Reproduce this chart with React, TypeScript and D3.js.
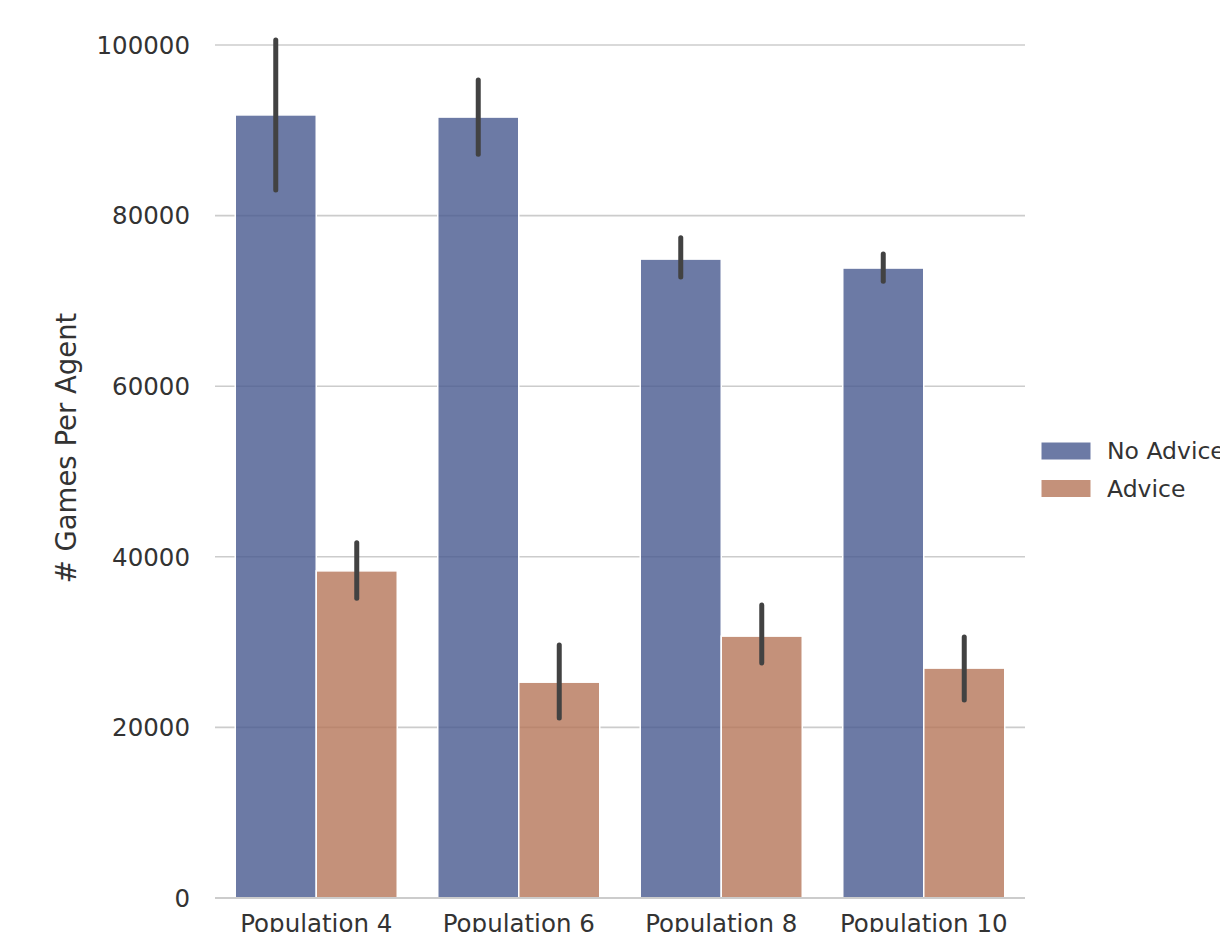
// Externals
import * as d3 from 'd3'
import React, { useEffect, useRef } from 'react'

const categories = ['Population 4', 'Population 6', 'Population 8', 'Population 10']
const seriesNames = ['No Advice', 'Advice']
const noAdviceMean = [91800, 91550, 74900, 73850]
const noAdviceLow = [83000, 87200, 72800, 72300]
const noAdviceHigh = [100600, 95900, 77400, 75500]
const adviceMean = [38350, 25300, 30700, 26950]
const adviceLow = [35150, 21100, 27550, 23200]
const adviceHigh = [41650, 29650, 34350, 30600]
const yTicks = [0, 20000, 40000, 60000, 80000, 100000]

const colors = ['#47598f', '#b57659']

const App = () => {
  const svgRef = useRef<any>(null)

  useEffect(() => {
    if (!svgRef.current) return
    d3.select(svgRef.current).selectAll('*').remove()

    const width = 1228
    const height = 940
    const left = 215
    const right = 1025
    const top = 45
    const bottom = 898

    const svg = d3.select(svgRef.current)
      .attr('width', width)
      .attr('height', height)
      .style('font-family', '"DejaVu Sans", sans-serif')

    const x = d3.scaleBand()
      .domain(categories)
      .range([left, right])
      .paddingInner(0.2)
      .paddingOuter(0.1)

    const xSub = d3.scaleBand()
      .domain(seriesNames)
      .range([0, x.bandwidth()])

    const y = d3.scaleLinear()
      .domain([0, 100000])
      .range([bottom, top])

    // Grid lines
    svg.selectAll('.grid')
      .data(yTicks.filter((t) => t > 0))
      .enter()
      .append('line')
      .attr('x1', left)
      .attr('x2', right)
      .attr('y1', (d) => y(d))
      .attr('y2', (d) => y(d))
      .attr('stroke', '#cccccc')
      .attr('stroke-width', 1.6)

    // Y tick labels
    svg.selectAll('.ytick')
      .data(yTicks)
      .enter()
      .append('text')
      .attr('x', 190)
      .attr('y', (d) => y(d))
      .attr('dy', '0.36em')
      .attr('text-anchor', 'end')
      .attr('font-size', 24.5)
      .attr('fill', '#333333')
      .text((d) => d)

    const series = [
      { name: seriesNames[0], mean: noAdviceMean, low: noAdviceLow, high: noAdviceHigh },
      { name: seriesNames[1], mean: adviceMean, low: adviceLow, high: adviceHigh },
    ]

    series.forEach((s, si) => {
      const bx = (i: number) => (x(categories[i]) as number) + (xSub(s.name) as number)

      svg.selectAll(`.bar-${si}`)
        .data(s.mean)
        .enter()
        .append('rect')
        .attr('x', (d, i) => bx(i))
        .attr('y', (d) => y(d))
        .attr('width', xSub.bandwidth())
        .attr('height', (d) => bottom - y(d))
        .attr('fill', colors[si])
        .attr('fill-opacity', 0.8)
        .attr('stroke', 'white')
        .attr('stroke-width', 1.5)
    })

    // Error bars on top
    series.forEach((s, si) => {
      const cx = (i: number) =>
        (x(categories[i]) as number) + (xSub(s.name) as number) + xSub.bandwidth() / 2

      svg.selectAll(`.err-${si}`)
        .data(s.mean)
        .enter()
        .append('line')
        .attr('x1', (d, i) => cx(i))
        .attr('x2', (d, i) => cx(i))
        .attr('y1', (d, i) => y(s.low[i]))
        .attr('y2', (d, i) => y(s.high[i]))
        .attr('stroke', '#424242')
        .attr('stroke-width', 5)
        .attr('stroke-linecap', 'round')
    })

    // Bottom spine
    svg.append('line')
      .attr('x1', left)
      .attr('x2', right)
      .attr('y1', bottom)
      .attr('y2', bottom)
      .attr('stroke', '#cccccc')
      .attr('stroke-width', 1.8)

    // X tick labels
    svg.selectAll('.xtick')
      .data(categories)
      .enter()
      .append('text')
      .attr('x', (d) => (x(d) as number) + x.bandwidth() / 2)
      .attr('y', 932)
      .attr('text-anchor', 'middle')
      .attr('font-size', 24.5)
      .attr('fill', '#333333')
      .text((d) => d)

    // Y axis label
    svg.append('text')
      .attr('transform', 'translate(76, 448) rotate(-90)')
      .attr('text-anchor', 'middle')
      .attr('font-size', 27.5)
      .attr('fill', '#333333')
      .text('# Games Per Agent')

    // Legend
    const legend = svg.append('g')
      .attr('transform', 'translate(1041, 442)')

    seriesNames.forEach((name, i) => {
      legend.append('rect')
        .attr('x', 0)
        .attr('y', i * 37.5)
        .attr('width', 50)
        .attr('height', 18)
        .attr('fill', colors[i])
        .attr('fill-opacity', 0.8)
        .attr('stroke', 'white')
        .attr('stroke-width', 1)

      legend.append('text')
        .attr('x', 66)
        .attr('y', i * 37.5 + 9)
        .attr('dy', '0.36em')
        .attr('font-size', 23.5)
        .attr('fill', '#333333')
        .text(name)
    })
  }, [])

  return (
    <div style={{ margin: -8, width: 1228, height: 940, overflow: 'hidden' }}>
      <svg ref={svgRef} style={{ display: 'block' }}></svg>
    </div>
  )
}

export default App
